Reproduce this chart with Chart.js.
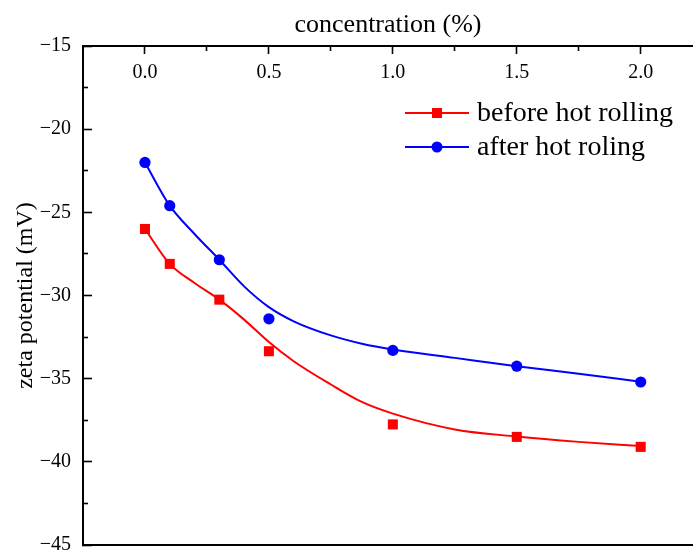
<!DOCTYPE html>
<html>
<head>
<meta charset="utf-8">
<script src="https://cdn.jsdelivr.net/npm/chart.js@4/dist/chart.umd.min.js"></script>
<style>
  html, body { margin: 0; padding: 0; background: #fff; overflow: hidden; }
  #wrap { width: 693px; height: 550px; }
</style>
</head>
<body>
<div id="wrap"><canvas id="c" width="693" height="550"></canvas></div>
<script>
// ---- data ----
const concentration = [0, 0.1, 0.3, 0.5, 1.0, 1.5, 2.0];
const zetaBefore = [-26.0, -28.1, -30.25, -33.35, -37.75, -38.5, -39.1];
const zetaAfter  = [-22.0, -24.6, -27.85, -31.4, -33.3, -34.25, -35.2];

// fitted curves
const fitConcentration = [0, 0.1, 0.2, 0.3, 0.4, 0.5, 0.6, 0.75, 0.875, 1.0, 1.25, 1.5, 1.75, 2.0];
const fitBefore = [-26.0, -28.1, -29.25, -30.25, -31.45, -32.8, -33.95, -35.35, -36.4, -37.1, -38.05, -38.48, -38.8, -39.05];
const fitAfter  = [-22.0, -24.6, -26.3, -27.85, -29.45, -30.7, -31.55, -32.4, -32.9, -33.25, -33.75, -34.25, -34.7, -35.18];

const seriesLabels = ['before hot rolling', 'after hot roling'];

const xTicks = [0, 0.5, 1.0, 1.5, 2.0];
const xTickLabels = ['0.0', '0.5', '1.0', '1.5', '2.0'];
const xMinorTicks = [0.25, 0.75, 1.25, 1.75];
const yTicks = [-45, -40, -35, -30, -25, -20, -15];
const yTickLabels = ['\u221245', '\u221240', '\u221235', '\u221230', '\u221225', '\u221220', '\u221215'];
const yMinorTicks = [-42.5, -37.5, -32.5, -27.5, -22.5, -17.5];

const FONT = '"Liberation Serif", "Times New Roman", serif';
const RED = '#ff0000';
const BLUE = '#0000ff';
const X_MIN = -0.25, X_MAX = 2.211, Y_MIN = -45, Y_MAX = -15;

const pts = (xs, ys) => xs.map((x, i) => ({ x: x, y: ys[i] }));

const legendPlugin = {
  id: 'lineMarkerLegend',
  afterDraw(chart) {
    const ctx = chart.ctx;
    const yRows = [113, 147];
    ctx.save();
    [0, 1].forEach((di, r) => {
      const ds = chart.data.datasets[di];
      const y = yRows[r];
      ctx.strokeStyle = ds.borderColor;
      ctx.lineWidth = 2;
      ctx.beginPath();
      ctx.moveTo(405, y);
      ctx.lineTo(469, y);
      ctx.stroke();
      ctx.fillStyle = ds.backgroundColor;
      if (ds.pointStyle === 'rect') {
        ctx.fillRect(437 - 5, y - 5, 10, 10);
      } else {
        ctx.beginPath();
        ctx.arc(437, y, 5.5, 0, Math.PI * 2);
        ctx.fill();
      }
      ctx.fillStyle = '#000';
      ctx.font = '28px ' + FONT;
      ctx.textBaseline = 'middle';
      ctx.textAlign = 'left';
      ctx.fillText(ds.label, 477, y + 1);
    });
    ctx.restore();
  }
};

const setTicks = (arr) => (scale) => { scale.ticks = arr.map(v => ({ value: v })); };
const fixSize = (prop, val) => (s) => {
  if (prop) s[prop] = val;
  s.paddingTop = 0; s.paddingBottom = 0; s.paddingLeft = 0; s.paddingRight = 0;
};

new Chart(document.getElementById('c'), {
  type: 'scatter',
  data: {
    datasets: [
      {
        label: seriesLabels[0],
        data: pts(concentration, zetaBefore),
        pointStyle: 'rect',
        pointRadius: 7.1,
        pointHoverRadius: 7.1,
        backgroundColor: RED,
        borderColor: RED,
        borderWidth: 0,
        showLine: false,
        xAxisID: 'x', yAxisID: 'y',
        order: 0
      },
      {
        label: seriesLabels[1],
        data: pts(concentration, zetaAfter),
        pointStyle: 'circle',
        pointRadius: 5.6,
        pointHoverRadius: 5.6,
        backgroundColor: BLUE,
        borderColor: BLUE,
        borderWidth: 0,
        showLine: false,
        xAxisID: 'x', yAxisID: 'y',
        order: 1
      },
      {
        label: 'fit before',
        data: pts(fitConcentration, fitBefore),
        showLine: true,
        pointRadius: 0,
        borderColor: RED,
        borderWidth: 2,
        cubicInterpolationMode: 'monotone',
        xAxisID: 'x', yAxisID: 'y',
        order: 2
      },
      {
        label: 'fit after',
        data: pts(fitConcentration, fitAfter),
        showLine: true,
        pointRadius: 0,
        borderColor: BLUE,
        borderWidth: 2,
        cubicInterpolationMode: 'monotone',
        xAxisID: 'x', yAxisID: 'y',
        order: 3
      }
    ]
  },
  options: {
    responsive: false,
    animation: false,
    devicePixelRatio: 1,
    layout: { autoPadding: false, padding: { left: 0, right: 0, top: 0, bottom: 5 } },
    plugins: {
      legend: { display: false },
      tooltip: { enabled: false }
    },
    scales: {
      // top frame line + title
      xt: {
        type: 'linear', axis: 'x', position: 'top',
        min: X_MIN, max: X_MAX,
        afterFit: fixSize('height', 46),
        grid: { drawOnChartArea: false, drawTicks: false },
        border: { display: true, color: '#000', width: 2 },
        ticks: { display: false },
        title: {
          display: true, text: 'concentration (%)', color: '#000',
          font: { family: FONT, size: 26 },
          padding: { top: 10, bottom: 0 }
        }
      },
      // major ticks + labels, drawn inside the plot under the top line
      x: {
        type: 'linear', axis: 'x', position: { y: Y_MAX },
        min: X_MIN, max: X_MAX,
        afterBuildTicks: setTicks(xTicks),
        afterFit: fixSize(null),
        grid: { drawOnChartArea: false, drawTicks: true, tickLength: 8, tickColor: '#000', tickWidth: 1.6 },
        border: { display: false },
        ticks: {
          autoSkip: false, maxRotation: 0, minRotation: 0,
          padding: 6.5, color: '#000',
          font: { family: FONT, size: 20 },
          callback: (v, i) => xTickLabels[i]
        }
      },
      xMinor: {
        type: 'linear', axis: 'x', position: { y: Y_MAX },
        min: X_MIN, max: X_MAX,
        afterBuildTicks: setTicks(xMinorTicks),
        afterFit: fixSize(null),
        grid: { drawOnChartArea: false, drawTicks: true, tickLength: 5, tickColor: '#000', tickWidth: 1.6 },
        border: { display: false },
        ticks: { display: false }
      },
      xb: {
        type: 'linear', axis: 'x', position: 'bottom',
        min: X_MIN, max: X_MAX,
        afterFit: fixSize('height', 0),
        grid: { drawOnChartArea: false, drawTicks: false },
        border: { display: true, color: '#000', width: 2 },
        ticks: { display: false }
      },
      y: {
        type: 'linear', axis: 'y', position: 'left', weight: 1,
        min: Y_MIN, max: Y_MAX,
        afterBuildTicks: setTicks(yTicks),
        afterFit: fixSize('width', 83),
        grid: { drawOnChartArea: false, drawTicks: true, tickLength: -9, tickColor: '#000', tickWidth: 1.6 },
        border: { display: true, color: '#000', width: 2 },
        ticks: {
          autoSkip: false, padding: 21, color: '#000',
          font: { family: FONT, size: 20 },
          callback: (v, i) => yTickLabels[i]
        },
        title: {
          display: true, text: 'zeta potential (mV)', color: '#000',
          font: { family: FONT, size: 24 },
          padding: { top: 11, bottom: 0 }
        }
      },
      yMinor: {
        type: 'linear', axis: 'y', position: 'left', weight: 0,
        min: Y_MIN, max: Y_MAX,
        afterBuildTicks: setTicks(yMinorTicks),
        afterFit: fixSize('width', 0),
        grid: { drawOnChartArea: false, drawTicks: true, tickLength: -5, tickColor: '#000', tickWidth: 1.6 },
        border: { display: false },
        ticks: { display: false }
      }
    }
  },
  plugins: [legendPlugin]
});
</script>
</body>
</html>
